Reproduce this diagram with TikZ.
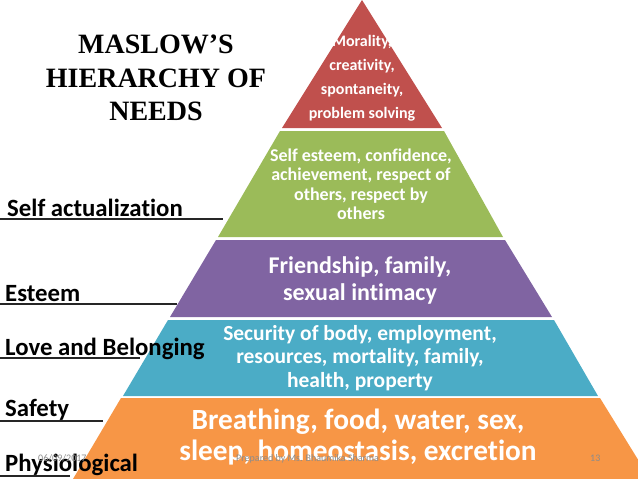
\documentclass[tikz,border=0pt]{standalone}
\usepackage{fontspec}
\setmainfont{Carlito}[Ligatures=NoCommon]
\newfontfamily\titlefont{Liberation Serif}
\usepackage{tikz}
\usetikzlibrary{positioning}

\definecolor{moralred}{HTML}{C0504D}
\definecolor{esteemgreen}{HTML}{9BBB59}
\definecolor{lovepurple}{HTML}{8064A2}
\definecolor{safetyteal}{HTML}{4BACC6}
\definecolor{physorange}{HTML}{F79646}
\definecolor{footgray}{HTML}{8C8C8C}

\begin{document}
\begin{tikzpicture}[
  x=1pt, y=-1pt,
  layertext/.style={text=white, font=\bfseries, align=center, inner sep=0pt},
  needlabel/.style={anchor=base west, inner sep=0pt, font=\fontsize{24.8}{28}\selectfont\bfseries},
  uline/.style={line width=2pt, black!85},
  foot/.style={anchor=base west, inner sep=0pt, text=footgray, font=\fontsize{10}{12}\selectfont},
]
\useasboundingbox (0,0) rectangle (638,479);

% Layers
\fill[moralred] (362,0) -- (442,128) -- (282,128) -- cycle;
\fill[esteemgreen] (280,131) -- (444,131) -- (503,237) -- (218,237) -- cycle;
\fill[lovepurple] (216,240) -- (505,240) -- (552,317) -- (170,317) -- cycle;
\fill[safetyteal] (168,320) -- (554,320) -- (598,396) -- (123,396) -- cycle;
\fill[physorange] (121,398) -- (600,398) -- (650,479) -- (73,479) -- cycle;

% Title
\node[inner sep=0pt, align=center, font=\titlefont\fontsize{28}{33.5}\selectfont\bfseries] (title) at (156,78)
  {MASLOW’S\\HIERARCHY OF\\NEEDS};

% Layer texts
\node[layertext, font=\fontsize{16}{24}\selectfont\bfseries] (moral) at (362,78)
  {Morality,\\creativity,\\spontaneity,\\problem solving};
\node[layertext, font=\fontsize{18}{19.5}\selectfont\bfseries] (esteem) at (361,184)
  {Self esteem, confidence,\\achievement, respect of\\others, respect by\\others};
\node[layertext, font=\fontsize{24}{27}\selectfont\bfseries] (love) at (360,280)
  {Friendship, family,\\sexual intimacy};
\node[layertext, font=\fontsize{21.5}{23.5}\selectfont\bfseries] (safety) at (360,358)
  {Security of body, employment,\\resources, mortality, family,\\health, property};
\node[layertext, font=\fontsize{29.3}{31}\selectfont\bfseries] (phys) at (358,437)
  {Breathing, food, water, sex,\\sleep, homeostasis, excretion};

% Left labels
\draw[uline] (0,219) -- (223,219);
\draw[uline] (0,304) -- (177,304);
\draw[uline] (0,358) -- (140,358);
\draw[uline] (0,421) -- (103,421);
\draw[uline] (0,476) -- (70,476);
\node[needlabel] (selfact) at (7,216) {Self actualization};
\node[needlabel] (esteemlbl) at (5,301) {Esteem};
\node[needlabel] (lovelbl) at (5,355) {Love and Belonging};
\node[needlabel] (safetylbl) at (5,416) {Safety};
\node[needlabel] (physlbl) at (5,471) {Physiological};

% Footer
\node[foot] (date) at (38,461) {06/09/2017};
\node[foot] (author) at (236,461) {Prepared by Ms. Bhaumika Sharma};
\node[foot] (page) at (590,461) {13};

\end{tikzpicture}
\end{document}
